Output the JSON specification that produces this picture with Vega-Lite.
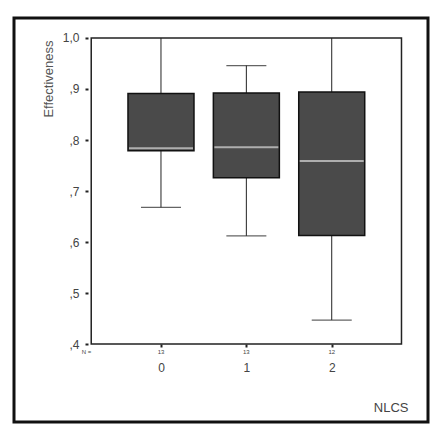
{
  "$schema": "https://vega.github.io/schema/vega-lite/v6.json",
  "width": 414,
  "height": 404,
  "autosize": "none",
  "padding": {"left": 14, "top": 18, "right": 12, "bottom": 18},
  "background": "white",
  "config": {
    "font": "Liberation Sans",
    "view": {"stroke": "#111111", "strokeWidth": 3}
  },
  "datasets": {
    "boxes": [
      {"NLCS": 0, "n": "13", "min": 0.668, "q1": 0.779, "median": 0.784, "q3": 0.891, "max": 1.0},
      {"NLCS": 1, "n": "13", "min": 0.612, "q1": 0.726, "median": 0.786, "q3": 0.892, "max": 0.946},
      {"NLCS": 2, "n": "12", "min": 0.447, "q1": 0.613, "median": 0.759, "q3": 0.894, "max": 1.0}
    ],
    "frame": [{"part": "plot"}],
    "nlabel": [{"label": "N ="}]
  },
  "layer": [
    {
      "data": {"name": "boxes"},
      "mark": {"type": "rule", "color": "#222222", "strokeWidth": 1},
      "encoding": {
        "x": {
          "field": "NLCS", "type": "quantitative",
          "scale": {"domain": [-1.663, 3.069], "nice": false, "zero": false},
          "axis": {
            "values": [0, 1, 2], "format": "d", "offset": -78, "domain": false, "grid": false,
            "tickSize": 3, "tickWidth": 2, "tickColor": "#222222",
            "labelPadding": 15, "labelFontSize": 12, "labelColor": "#444444", "labelFont": "Liberation Sans",
            "title": "NLCS", "titleFontSize": 13, "titleFontWeight": "normal", "titleColor": "#444444",
            "titleFont": "Liberation Sans",
            "titleX": 394, "titleY": 63, "titleAlign": "right", "titleBaseline": "middle"
          }
        },
        "y": {
          "field": "min", "type": "quantitative",
          "scale": {"domain": [0.2471, 1.0392], "nice": false, "zero": false},
          "axis": {
            "values": [0.4, 0.5, 0.6, 0.7, 0.8, 0.9, 1.0],
            "labelExpr": "datum.value >= 0.99 ? '1,0' : ',' + format(datum.value * 10, '.0f')",
            "offset": -74, "domain": false, "grid": false,
            "tickSize": 3, "tickWidth": 2, "tickColor": "#222222",
            "labelPadding": 6, "labelFontSize": 12, "labelColor": "#444444", "labelFont": "Liberation Sans",
            "title": "Effectiveness", "titleFontSize": 13, "titleFontWeight": "normal", "titleColor": "#555555",
            "titleFont": "Liberation Sans", "titleAngle": -90,
            "titleX": -33, "titleY": 22, "titleAlign": "right", "titleBaseline": "bottom"
          }
        },
        "y2": {"field": "max"}
      }
    },
    {
      "data": {"name": "frame"},
      "mark": {"type": "rect", "fill": null, "stroke": "#222222", "strokeWidth": 1.5},
      "encoding": {
        "x": {"datum": -0.817, "type": "quantitative"},
        "x2": {"datum": 2.817},
        "y": {"datum": 0.4, "type": "quantitative"},
        "y2": {"datum": 1.0}
      }
    },
    {
      "data": {"name": "boxes"},
      "mark": {"type": "tick", "orient": "horizontal", "color": "#222222", "size": 40, "thickness": 1.2},
      "encoding": {
        "x": {"field": "NLCS", "type": "quantitative"},
        "y": {"field": "min", "type": "quantitative"}
      }
    },
    {
      "data": {"name": "boxes"},
      "transform": [{"filter": "datum.max < 0.99"}],
      "mark": {"type": "tick", "orient": "horizontal", "color": "#222222", "size": 40, "thickness": 1.2},
      "encoding": {
        "x": {"field": "NLCS", "type": "quantitative"},
        "y": {"field": "max", "type": "quantitative"}
      }
    },
    {
      "data": {"name": "boxes"},
      "mark": {"type": "bar", "width": 66, "fill": "#4a4a4a", "stroke": "#111111", "strokeWidth": 1.5},
      "encoding": {
        "x": {"field": "NLCS", "type": "quantitative"},
        "y": {"field": "q1", "type": "quantitative"},
        "y2": {"field": "q3"}
      }
    },
    {
      "data": {"name": "boxes"},
      "mark": {"type": "tick", "orient": "horizontal", "color": "#d8d8d8", "size": 64, "thickness": 2},
      "encoding": {
        "x": {"field": "NLCS", "type": "quantitative"},
        "y": {"field": "median", "type": "quantitative"}
      }
    },
    {
      "data": {"name": "boxes"},
      "mark": {"type": "text", "fontSize": 6, "color": "#444444", "baseline": "middle", "align": "center"},
      "encoding": {
        "x": {"field": "NLCS", "type": "quantitative"},
        "y": {"datum": 0.3843, "type": "quantitative"},
        "text": {"field": "n"}
      }
    },
    {
      "data": {"name": "nlabel"},
      "mark": {"type": "text", "fontSize": 6, "color": "#444444", "baseline": "middle", "align": "right"},
      "encoding": {
        "x": {"datum": -0.817, "type": "quantitative"},
        "y": {"datum": 0.3843, "type": "quantitative"},
        "text": {"field": "label"}
      }
    }
  ]
}
